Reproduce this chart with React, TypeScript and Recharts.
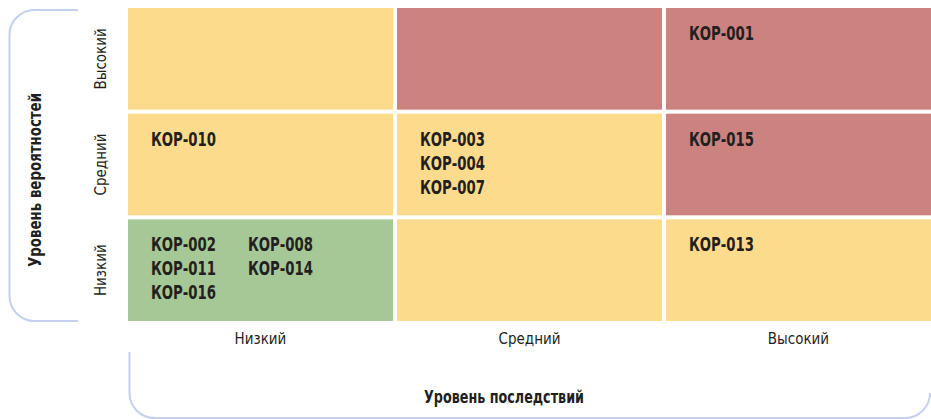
import React from 'react';
import { BarChart, Bar, XAxis, YAxis, LabelList, Customized } from 'recharts';

// Axis categories
const consequenceLevels = ['Низкий', 'Средний', 'Высокий'];
const probabilityLevels = ['Низкий', 'Средний', 'Высокий'];

// Risks in each cell, per probability row, indexed by consequence level
const lowProbabilityRisks = [['КОР-002', 'КОР-011', 'КОР-016', 'КОР-008', 'КОР-014'], [], ['КОР-013']];
const mediumProbabilityRisks = [['КОР-010'], ['КОР-003', 'КОР-004', 'КОР-007'], ['КОР-015']];
const highProbabilityRisks = [[], [], ['КОР-001']];

// Risk zone of each cell
const lowProbabilityZones = ['low', 'medium', 'medium'];
const mediumProbabilityZones = ['medium', 'medium', 'high'];
const highProbabilityZones = ['medium', 'high', 'high'];

const zoneColors: Record<string, string> = {
  low: '#A6C796',
  medium: '#FDDB8D',
  high: '#CC8380',
};

const data = consequenceLevels.map((name, i) => ({
  name,
  low: 1,
  medium: 1,
  high: 1,
  lowZone: lowProbabilityZones[i],
  mediumZone: mediumProbabilityZones[i],
  highZone: highProbabilityZones[i],
}));

const FONT = "'DejaVu Sans Condensed', 'DejaVu Sans', sans-serif";
const TEXT = '#231F20';
const BRACKET = '#C5D0EE';
const GAP = 2;

const makeShape = (zoneKey: string) => (props: any) => {
  const { x, y, width, height, payload } = props;
  return (
    <rect
      x={x + GAP}
      y={y + GAP}
      width={Math.max(0, width - GAP * 2)}
      height={Math.max(0, height - GAP * 2)}
      fill={zoneColors[payload[zoneKey]]}
    />
  );
};

const makeRiskLabels = (risks: string[][]) => (props: any) => {
  const { x, y, index } = props;
  const list = risks[index] || [];
  return (
    <g>
      {list.map((code, k) => {
        const col = Math.floor(k / 3);
        const row = k % 3;
        return (
          <text
            key={code}
            x={x + GAP + 23 + col * 97}
            y={y + GAP + 25 + row * 24}
            dominantBaseline="central"
            fontFamily={FONT}
            fontWeight={700}
            fontSize={19}
            textLength={65}
            lengthAdjust="spacingAndGlyphs"
            fill={TEXT}
          >
            {code}
          </text>
        );
      })}
    </g>
  );
};

const XTick = (props: any) => {
  const { x, y, payload } = props;
  return (
    <text x={x} y={y} dy={13} textAnchor="middle" fontFamily={FONT} fontSize={15} fill={TEXT}>
      {payload.value}
    </text>
  );
};

const YTick = (props: any) => {
  const { x, y, payload } = props;
  const label = probabilityLevels[Math.floor(payload.value)];
  const cx = x - 17;
  return (
    <text
      x={cx}
      y={y}
      transform={`rotate(-90, ${cx}, ${y})`}
      textAnchor="middle"
      dominantBaseline="central"
      fontFamily={FONT}
      fontSize={15}
      fill={TEXT}
    >
      {label}
    </text>
  );
};

const Decorations = () => (
  <g>
    <path
      d="M 78 10 L 34.5 10 A 25 25 0 0 0 9.5 35 L 9.5 296 A 25 25 0 0 0 34.5 321 L 78 321"
      fill="none"
      stroke={BRACKET}
      strokeWidth={2}
    />
    <path
      d="M 129.5 352 L 129.5 393 A 25 25 0 0 0 154.5 418 L 905 418 A 25 25 0 0 0 930 393"
      fill="none"
      stroke={BRACKET}
      strokeWidth={2}
    />
    <text
      x={34}
      y={180}
      transform="rotate(-90, 34, 180)"
      textAnchor="middle"
      dominantBaseline="central"
      fontFamily={FONT}
      fontWeight={700}
      fontSize={18}
      textLength={174}
      lengthAdjust="spacingAndGlyphs"
      fill={TEXT}
    >
      Уровень вероятностей
    </text>
    <text
      x={504}
      y={396}
      textAnchor="middle"
      dominantBaseline="central"
      fontFamily={FONT}
      fontWeight={700}
      fontSize={18}
      textLength={160}
      lengthAdjust="spacingAndGlyphs"
      fill={TEXT}
    >
      Уровень последствий
    </text>
  </g>
);

export default function App() {
  return (
    <div style={{ position: 'absolute', left: 0, top: 0, width: 931, height: 419, background: '#fff' }}>
      <BarChart
        width={931}
        height={419}
        data={data}
        margin={{ top: 6, right: -2, bottom: 66, left: 86 }}
        barCategoryGap={0}
        barGap={0}
      >
        <XAxis dataKey="name" tickLine={false} axisLine={false} height={30} tick={<XTick />} interval={0} />
        <YAxis
          type="number"
          domain={[0, 3]}
          ticks={[0.5, 1.5, 2.5]}
          tickLine={false}
          axisLine={false}
          width={40}
          tick={<YTick />}
          interval={0}
        />
        <Bar dataKey="low" stackId="m" isAnimationActive={false} shape={makeShape('lowZone')}>
          <LabelList dataKey="low" content={makeRiskLabels(lowProbabilityRisks)} />
        </Bar>
        <Bar dataKey="medium" stackId="m" isAnimationActive={false} shape={makeShape('mediumZone')}>
          <LabelList dataKey="medium" content={makeRiskLabels(mediumProbabilityRisks)} />
        </Bar>
        <Bar dataKey="high" stackId="m" isAnimationActive={false} shape={makeShape('highZone')}>
          <LabelList dataKey="high" content={makeRiskLabels(highProbabilityRisks)} />
        </Bar>
        <Customized component={Decorations} />
      </BarChart>
    </div>
  );
}
